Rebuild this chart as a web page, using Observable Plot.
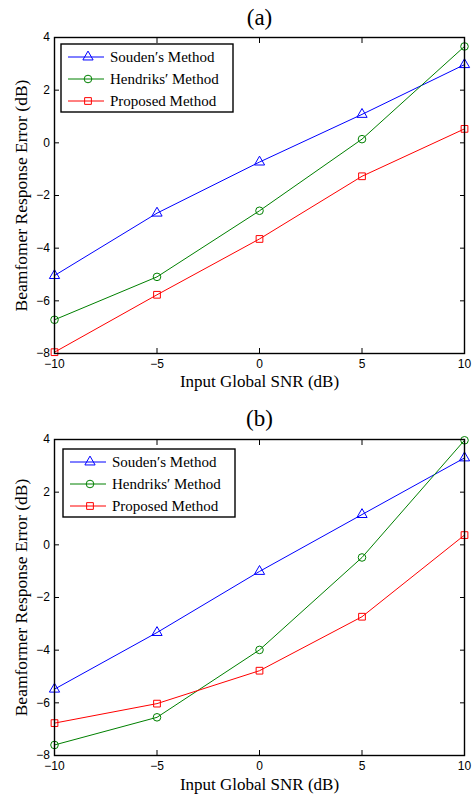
<!DOCTYPE html>
<html><head><meta charset="utf-8">
<script src="https://cdn.jsdelivr.net/npm/d3@7"></script>
<script src="https://cdn.jsdelivr.net/npm/@observablehq/plot@0.6"></script>
<style>body{margin:0;background:#fff} #chart svg{display:block}</style>
</head><body><div id="chart"></div>
<script>
const snr = [-10, -5, 0, 5, 10];
const xTicks = [-10, -5, 0, 5, 10];
const yTicks = [-8, -6, -4, -2, 0, 2, 4];
const seriesNames = ["Souden′s Method", "Hendriks′ Method", "Proposed Method"];
const seriesColors = ["#0000ff", "#008000", "#ff0000"];
const seriesSymbols = ["triangle", "circle", "square"];
const soudenA = [-5.04, -2.67, -0.73, 1.08, 2.97];
const hendriksA = [-6.72, -5.09, -2.58, 0.14, 3.66];
const proposedA = [-7.95, -5.77, -3.65, -1.27, 0.53];
const soudenB = [-5.48, -3.33, -1.01, 1.15, 3.30];
const hendriksB = [-7.60, -6.55, -3.99, -0.48, 3.97];
const proposedB = [-6.77, -6.03, -4.78, -2.73, 0.37];
const titles = ["(a)", "(b)"];
const yLabels = ["Beamfomer Response Error (dB)", "Beamformer Response Error (dB)"];
const xLabel = "Input Global SNR (dB)";

const SERIF = "'Liberation Serif', 'Times New Roman', serif";
const SANS = "'Liberation Sans', Arial, sans-serif";
const R = 3.8;

function tidy(seriesVals) {
  const rows = [];
  seriesVals.forEach((vals, i) => vals.forEach((v, j) => rows.push({x: snr[j], y: v, s: i})));
  return rows;
}

function makeChart(seriesVals, title, yLabel, cfg) {
  const data = tidy(seriesVals);
  const marks = [];
  seriesNames.forEach((name, i) => {
    const d = data.filter(r => r.s === i);
    marks.push(Plot.line(d, {x: "x", y: "y", stroke: seriesColors[i], strokeWidth: 1}));
    marks.push(Plot.dot(d, {x: "x", y: "y", stroke: seriesColors[i], fill: "none", symbol: seriesSymbols[i], r: R, strokeWidth: 1}));
  });
  const chart = Plot.plot({
    width: 474,
    height: cfg.h,
    marginTop: cfg.mt,
    marginBottom: cfg.mb,
    marginLeft: 54,
    marginRight: 10,
    style: {background: "#fff", color: "#000"},
    x: {domain: [-10, 10], ticks: xTicks},
    y: {domain: [-8, 4], ticks: yTicks},
    marks: [
      ...marks,
      Plot.frame({stroke: "#000", strokeWidth: 1.4}),
      Plot.axisX(xTicks, {anchor: "bottom", tickSize: -5, tickPadding: cfg.tp, fontSize: 12, fontFamily: SANS, label: null, stroke: "#000"}),
      Plot.axisX(xTicks, {anchor: "top", tickSize: -5, tickFormat: () => "", label: null, stroke: "#000"}),
      Plot.axisY(yTicks, {anchor: "left", tickSize: -5, tickPadding: 9.5, fontSize: 12, fontFamily: SANS, label: null, stroke: "#000"}),
      Plot.axisY(yTicks, {anchor: "right", tickSize: -5, tickFormat: () => "", label: null, stroke: "#000"}),
      Plot.text([title], {frameAnchor: "top", dy: cfg.titleDy, lineAnchor: "middle", textAnchor: "middle", fontSize: 23, fontFamily: SERIF, fill: "#000"}),
      Plot.text([xLabel], {frameAnchor: "bottom", dy: cfg.xlDy, lineAnchor: "middle", textAnchor: "middle", fontSize: 17, fontFamily: SERIF, fill: "#000"}),
      Plot.text([yLabel], {frameAnchor: "left", dx: -33, rotate: -90, lineAnchor: "middle", textAnchor: "middle", fontSize: 17.5, fontFamily: SERIF, fill: "#000"})
    ]
  });
  // legend
  const svg = d3.select(chart);
  const g = svg.append("g").attr("transform", `translate(${54 + cfg.lx},${cfg.mt + cfg.ly})`);
  g.append("rect").attr("width", 172).attr("height", 68).attr("fill", "#fff").attr("stroke", "#000").attr("stroke-width", 1.4);
  const symTypes = {triangle: d3.symbolTriangle, circle: d3.symbolCircle, square: d3.symbolSquare};
  seriesNames.forEach((name, i) => {
    const y = 13 + 22 * i;
    g.append("line").attr("x1", 7).attr("x2", 43).attr("y1", y).attr("y2", y).attr("stroke", seriesColors[i]).attr("stroke-width", 1);
    g.append("path").attr("transform", `translate(27,${y})`)
      .attr("d", d3.symbol().type(symTypes[seriesSymbols[i]]).size(R * R * Math.PI)())
      .attr("fill", "none").attr("stroke", seriesColors[i]).attr("stroke-width", 1);
    g.append("text").attr("x", 49).attr("y", y).attr("dy", "0.35em").attr("text-anchor", "start")
      .attr("font-family", SERIF).attr("font-size", 15).attr("fill", "#000").text(name);
  });
  return chart;
}

const root = document.getElementById("chart");
root.appendChild(makeChart([soudenA, hendriksA, proposedA], titles[0], yLabels[0], {h: 395, mt: 37, mb: 42, tp: 11, titleDy: -20, xlDy: 28.5, lx: 7, ly: 7}));
root.appendChild(makeChart([soudenB, hendriksB, proposedB], titles[1], yLabels[1], {h: 399, mt: 44, mb: 39, tp: 11, titleDy: -21, xlDy: 29.5, lx: 9, ly: 10}));
</script>
</body></html>
